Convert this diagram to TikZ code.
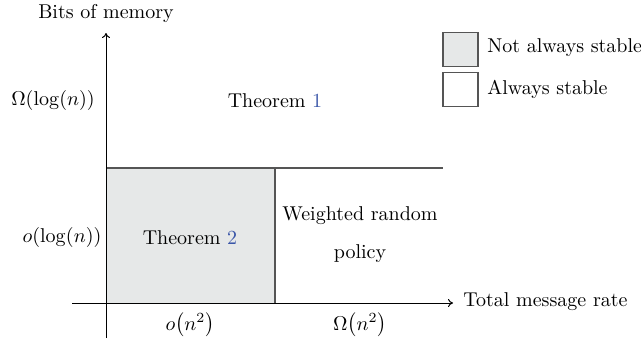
\documentclass[tikz,border=0pt]{standalone}
\usetikzlibrary{arrows.meta}
\definecolor{regiongray}{HTML}{E6E8E8}
\definecolor{linegray}{HTML}{555555}
\definecolor{refblue}{HTML}{3A56A8}
\begin{document}
\begin{tikzpicture}[x=0.5pt,y=-0.5pt,
  lbl/.style={inner sep=0pt, font=\fontsize{10}{12}\selectfont},
  region/.style={draw=linegray, line width=0.6pt},
  axis/.style={draw=black, line width=0.5pt, -{To[length=2.5pt,width=4pt]}},
  legbox/.style={draw=linegray, line width=0.6pt, minimum width=17.5pt, minimum height=17pt, inner sep=0pt}]
\useasboundingbox (0,0) rectangle (641,343);
% regions
\fill[regiongray] (106,168) rectangle (275,303);
\draw[region] (106,168) -- (443,168);
\draw[region] (275,168) -- (275,303);
% axes
\coordinate (yb) at (106,338);
\coordinate (yt) at (106,33);
\coordinate (xl) at (72,303);
\coordinate (xr) at (453,303);
\draw[axis] (yb) -- (yt);
\draw[axis] (xl) -- (xr);
% axis labels
\node[lbl] (ylab) at (106,13) {Bits of memory};
\node[lbl, anchor=west] (xlab) at (463,302) {Total message rate};
\node[lbl] (yhi) at (53,100) {$\Omega(\log(n))$};
\node[lbl] (ylo) at (62,237) {$o(\log(n))$};
\node[lbl] (xlo) at (190,325) {$o\bigl(n^2\bigr)$};
\node[lbl] (xhi) at (360,325) {$\Omega\bigl(n^2\bigr)$};
% region labels
\node[lbl] (t1) at (275,101) {Theorem \textcolor{refblue}{1}};
\node[lbl] (t2) at (190,238) {Theorem \textcolor{refblue}{2}};
\node[lbl, align=center] (wr) at (360,235) {Weighted random\\[7pt]policy};
% legend
\node[legbox, fill=regiongray] (lg1) at (460.5,49.5) {};
\node[legbox, fill=white] (lg2) at (460.5,89.5) {};
\node[lbl, anchor=west] (lt1) at (487,48) {Not always stable};
\node[lbl, anchor=west] (lt2) at (487,89) {Always stable};
\end{tikzpicture}
\end{document}
